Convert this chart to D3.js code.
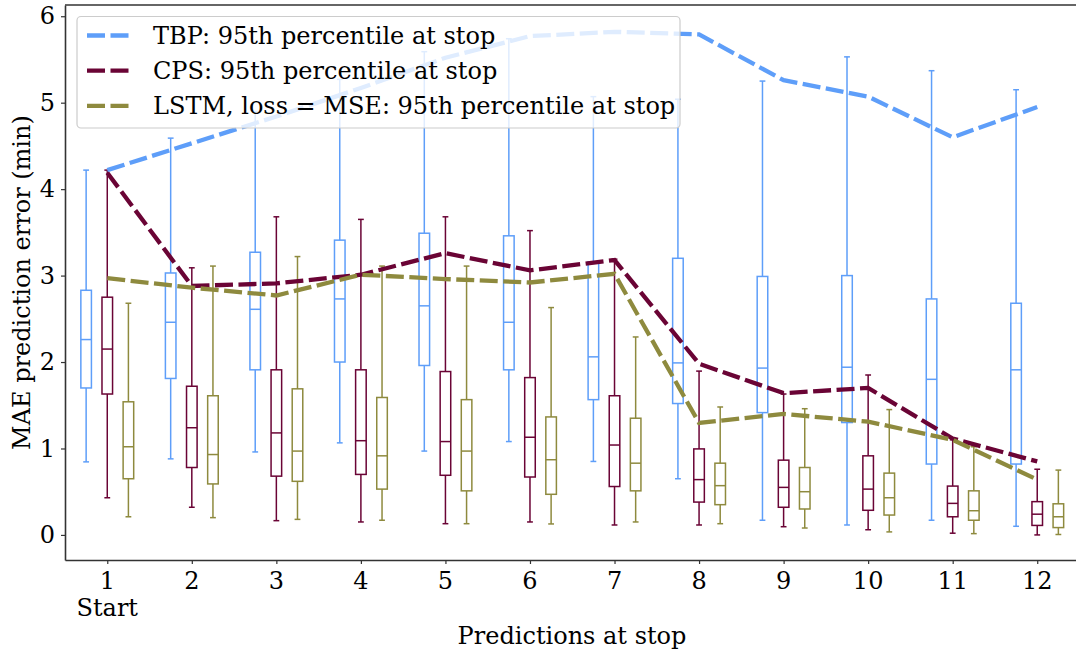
<!DOCTYPE html>
<html>
<head>
<meta charset="utf-8">
<script src="https://cdn.jsdelivr.net/npm/d3@7"></script>
<style>
  html, body { margin: 0; padding: 0; background: #fff; }
  svg { display: block; font-family: "DejaVu Serif", serif; }
</style>
</head>
<body>
<svg id="chart" width="1076" height="653"></svg>
<script>
// ---- data ----
const categories = [1, 2, 3, 4, 5, 6, 7, 8, 9, 10, 11, 12];
const xTickLabels = ["1\nStart", "2", "3", "4", "5", "6", "7", "8", "9", "10", "11", "12"];
const yTicks = [0, 1, 2, 3, 4, 5, 6];
const seriesNames = ["TBP", "CPS", "LSTM, loss = MSE"];

const tbpHi  = [4.22, 4.59, 4.90, 5.27, 5.59, 5.74, 5.07, 5.04, 5.25, 5.53, 5.37, 5.15];
const tbpQ3  = [2.83, 3.03, 3.27, 3.41, 3.49, 3.46, 3.16, 3.20, 2.99, 3.00, 2.73, 2.68];
const tbpMed = [2.26, 2.46, 2.61, 2.73, 2.65, 2.46, 2.06, 1.99, 1.93, 1.94, 1.80, 1.91];
const tbpQ1  = [1.70, 1.81, 1.91, 2.00, 1.96, 1.91, 1.565, 1.52, 1.415, 1.30, 0.82, 0.82];
const tbpLo  = [0.845, 0.88, 0.96, 1.065, 0.97, 1.08, 0.85, 0.65, 0.17, 0.115, 0.17, 0.10];

const cpsHi  = [4.22, 3.09, 3.68, 3.65, 3.68, 3.52, 3.19, 1.895, 1.63, 1.85, 1.10, 0.76];
const cpsQ3  = [2.75, 1.72, 1.91, 1.91, 1.89, 1.82, 1.61, 0.995, 0.865, 0.915, 0.565, 0.385];
const cpsMed = [2.15, 1.24, 1.18, 1.09, 1.08, 1.13, 1.04, 0.64, 0.55, 0.53, 0.365, 0.24];
const cpsQ1  = [1.63, 0.78, 0.68, 0.70, 0.69, 0.67, 0.56, 0.38, 0.32, 0.285, 0.21, 0.11];
const cpsLo  = [0.43, 0.32, 0.165, 0.15, 0.13, 0.15, 0.115, 0.115, 0.095, 0.06, 0.02, 0.0];

const lstmHi  = [2.68, 3.11, 3.22, 3.11, 3.11, 2.63, 2.29, 1.48, 1.46, 1.45, 1.02, 0.75];
const lstmQ3  = [1.54, 1.61, 1.69, 1.59, 1.565, 1.365, 1.35, 0.83, 0.78, 0.715, 0.51, 0.36];
const lstmMed = [1.02, 0.93, 0.97, 0.915, 0.97, 0.87, 0.83, 0.57, 0.50, 0.43, 0.28, 0.21];
const lstmQ1  = [0.65, 0.59, 0.62, 0.53, 0.51, 0.47, 0.51, 0.35, 0.30, 0.23, 0.17, 0.085];
const lstmLo  = [0.21, 0.20, 0.18, 0.17, 0.13, 0.127, 0.15, 0.13, 0.08, 0.035, 0.015, 0.005];

const tbpP95  = [4.22, 4.53, 4.84, 5.17, 5.52, 5.77, 5.82, 5.79, 5.26, 5.07, 4.60, 4.95];
const cpsP95  = [4.19, 2.88, 2.91, 3.01, 3.26, 3.06, 3.18, 1.98, 1.64, 1.70, 1.115, 0.85];
const lstmP95 = [2.97, 2.86, 2.77, 3.01, 2.96, 2.92, 3.02, 1.295, 1.40, 1.31, 1.10, 0.64];

// ---- styling ----
const colors = ["#5e9ef9", "#6a0435", "#8e8a3e"];
const offsets = [-0.25, 0, 0.25];
const boxW = 0.125;
const fs = 24;
const dash = "18,5.5";
const lw = 4.3;

const series = [
  {hi: tbpHi, q3: tbpQ3, med: tbpMed, q1: tbpQ1, lo: tbpLo, p95: tbpP95},
  {hi: cpsHi, q3: cpsQ3, med: cpsMed, q1: cpsQ1, lo: cpsLo, p95: cpsP95},
  {hi: lstmHi, q3: lstmQ3, med: lstmMed, q1: lstmQ1, lo: lstmLo, p95: lstmP95}
];

const svg = d3.select("#chart");
const mLeft = 65, mTop = 5, mBottom = 560, mRight = 1079.5;

const x = d3.scaleLinear().domain([0.5, 12.5]).range([mLeft, mRight]);
const y = d3.scaleLinear().domain([-0.29, 6.13]).range([mBottom, mTop]);

// boxes
series.forEach((s, si) => {
  const g = svg.append("g").attr("stroke", colors[si]).attr("fill", "none").attr("stroke-width", 1.5);
  categories.forEach((c, i) => {
    const cx = x(c + offsets[si]);
    const hw = (x(boxW) - x(0)) / 2;
    const cw = hw * 0.55;
    g.append("line").attr("x1", cx).attr("x2", cx).attr("y1", y(s.q3[i])).attr("y2", y(s.hi[i]));
    g.append("line").attr("x1", cx).attr("x2", cx).attr("y1", y(s.q1[i])).attr("y2", y(s.lo[i]));
    g.append("line").attr("x1", cx - cw).attr("x2", cx + cw).attr("y1", y(s.hi[i])).attr("y2", y(s.hi[i]));
    g.append("line").attr("x1", cx - cw).attr("x2", cx + cw).attr("y1", y(s.lo[i])).attr("y2", y(s.lo[i]));
    g.append("rect").attr("x", cx - hw).attr("width", 2 * hw)
      .attr("y", y(s.q3[i])).attr("height", y(s.q1[i]) - y(s.q3[i]));
    g.append("line").attr("x1", cx - hw).attr("x2", cx + hw).attr("y1", y(s.med[i])).attr("y2", y(s.med[i]));
  });
});

// 95th percentile lines
const line = d3.line().x((d, i) => x(categories[i])).y(d => y(d));
series.forEach((s, si) => {
  svg.append("path").datum(s.p95).attr("d", line)
    .attr("fill", "none").attr("stroke", colors[si]).attr("stroke-width", lw)
    .attr("stroke-dasharray", dash);
});

// axes
const xAxis = d3.axisBottom(x).tickValues(categories).tickSizeInner(4).tickSizeOuter(0).tickFormat("");
const gx = svg.append("g").attr("transform", `translate(0,${mBottom})`).call(xAxis);
gx.select(".domain").attr("stroke", "#333").attr("stroke-width", 1.6);
gx.selectAll(".tick line").attr("stroke", "#333").attr("stroke-width", 1.2);
categories.forEach((c, i) => {
  const lines = xTickLabels[i].split("\n");
  lines.forEach((t, k) => {
    svg.append("text").attr("x", x(c)).attr("y", 589 + k * 27)
      .attr("text-anchor", "middle").attr("font-size", fs).attr("fill", "#000").text(t);
  });
});

const yAxis = d3.axisLeft(y).tickValues(yTicks).tickSizeInner(4).tickSizeOuter(0).tickPadding(6).tickFormat(d3.format("d"));
const gy = svg.append("g").attr("transform", `translate(${mLeft},0)`).call(yAxis);
gy.select(".domain").attr("stroke", "#333").attr("stroke-width", 1.6);
gy.selectAll(".tick line").attr("stroke", "#333").attr("stroke-width", 1.2);
gy.selectAll(".tick text").attr("font-size", fs).attr("font-family", "DejaVu Serif").attr("fill", "#000");

// top spine
svg.append("line").attr("x1", mLeft).attr("x2", mRight).attr("y1", mTop).attr("y2", mTop)
  .attr("stroke", "#333").attr("stroke-width", 1.6);

// axis labels
svg.append("text").attr("x", 572).attr("y", 644).attr("text-anchor", "middle")
  .attr("font-size", fs).text("Predictions at stop");
svg.append("text").attr("transform", `translate(30,${(mTop + mBottom) / 2}) rotate(-90)`)
  .attr("text-anchor", "middle").attr("font-size", fs).text("MAE prediction error (min)");

// legend
const lg = svg.append("g");
lg.append("rect").attr("x", 77).attr("y", 16.5).attr("width", 603).attr("height", 111.5)
  .attr("rx", 4).attr("fill", "#fff").attr("fill-opacity", 0.8)
  .attr("stroke", "#cccccc").attr("stroke-width", 1.2);
seriesNames.forEach((n, i) => {
  const ly = 35.5 + i * 35.2;
  lg.append("line").attr("x1", 87).attr("x2", 134).attr("y1", ly).attr("y2", ly)
    .attr("stroke", colors[i]).attr("stroke-width", lw).attr("stroke-dasharray", dash);
  lg.append("text").attr("x", 153).attr("y", ly).attr("dy", "0.35em")
    .attr("font-size", fs).text(n + ": 95th percentile at stop");
});
</script>
</body>
</html>
